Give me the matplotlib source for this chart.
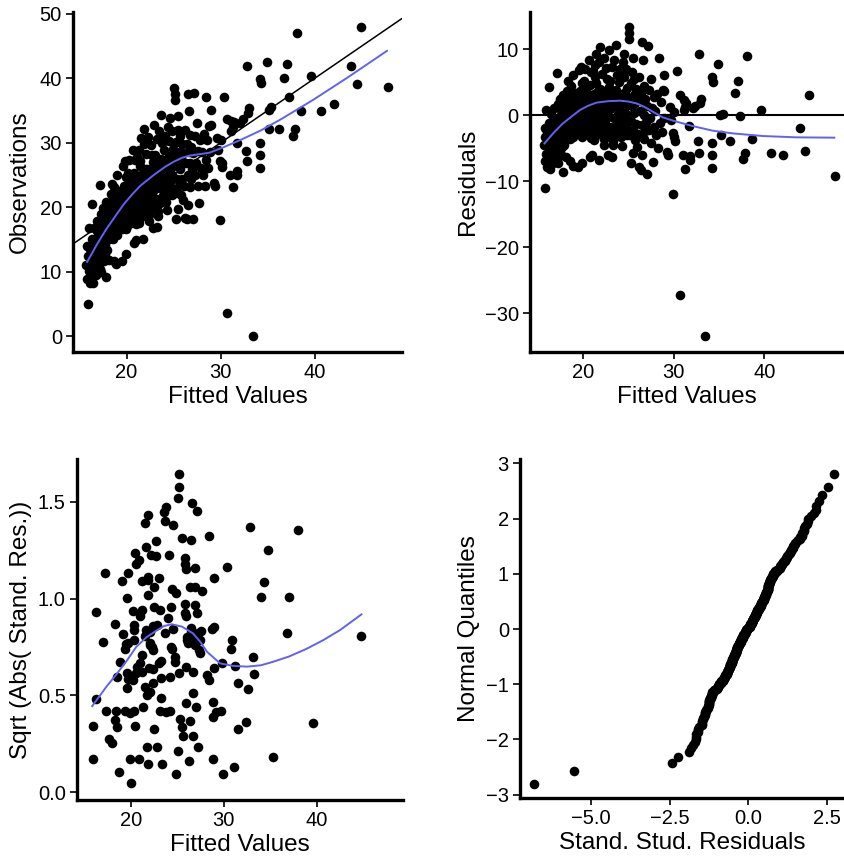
import numpy as np
import matplotlib.pyplot as plt
from statistics import NormalDist

plt.rcParams['font.family'] = ['Liberation Sans', 'DejaVu Sans']

# fitted values and raw residuals of the model, grouped by fitted range
fitted = [
    15.7, 15.8, 15.8, 15.9, 15.9, 16.0, 16.0, 16.1, 16.1, 16.2, 16.2, 16.3, 16.3, 16.4, 16.4, 16.5, 16.5, 16.6, 16.6, 16.7, 16.7, 16.8, 16.8, 16.9, 16.9, 17.0, 17.0, 16.5, 16.2, 16.6,
    17.05, 17.1, 17.15, 17.2, 17.2, 17.25, 17.3, 17.3, 17.35, 17.4, 17.45, 17.5, 17.5, 17.55, 17.6, 17.6, 17.7, 17.7, 17.75, 17.8, 17.8, 17.85, 17.9, 17.9, 17.95,
    18.0, 18.05, 18.1, 18.1, 18.15, 18.2, 18.25, 18.3, 18.3, 18.35, 18.4, 18.4, 18.45, 18.5, 18.5, 18.55, 18.6, 18.6, 18.65, 18.7, 18.7, 18.75, 18.8, 18.8, 18.85, 18.9, 18.9, 18.95, 18.95, 18.5,
    19.0, 19.05, 19.1, 19.1, 19.15, 19.2, 19.25, 19.25, 19.3, 19.3, 19.35, 19.4, 19.4, 19.45, 19.5, 19.5, 19.55, 19.6, 19.6, 19.65, 19.7, 19.7, 19.75, 19.8, 19.8, 19.85, 19.9, 19.9, 19.95, 19.95, 19.3, 19.6, 19.8, 19.2, 19.5,
    20.0, 20.05, 20.1, 20.1, 20.15, 20.2, 20.25, 20.3, 20.3, 20.35, 20.4, 20.45, 20.5, 20.5, 20.55, 20.6, 20.6, 20.65, 20.7, 20.7, 20.75, 20.8, 20.8, 20.85, 20.9, 20.9, 20.95, 21.0, 21.0, 20.4, 20.2, 20.6, 20.0, 20.5, 20.9,
    21.0, 21.05, 21.1, 21.1, 21.15, 21.2, 21.25, 21.3, 21.3, 21.35, 21.4, 21.4, 21.45, 21.5, 21.5, 21.55, 21.6, 21.6, 21.65, 21.7, 21.7, 21.75, 21.8, 21.8, 21.85, 21.9, 21.9, 21.9, 21.95, 21.95, 21.3, 21.6, 21.2, 21.8, 21.4,
    22.0, 22.05, 22.1, 22.1, 22.15, 22.2, 22.25, 22.3, 22.3, 22.35, 22.4, 22.45, 22.5, 22.5, 22.55, 22.6, 22.6, 22.65, 22.7, 22.7, 22.75, 22.8, 22.8, 22.85, 22.9, 22.9, 22.95, 22.4, 22.2, 22.6,
    23.0, 23.05, 23.1, 23.15, 23.2, 23.25, 23.3, 23.35, 23.4, 23.45, 23.5, 23.5, 23.55, 23.6, 23.65, 23.7, 23.7, 23.75, 23.8, 23.8, 23.85, 23.9, 23.95, 23.95, 23.3, 23.6, 23.1, 23.9,
    24.0, 24.05, 24.1, 24.15, 24.2, 24.25, 24.3, 24.35, 24.4, 24.45, 24.5, 24.5, 24.55, 24.6, 24.6, 24.65, 24.7, 24.75, 24.8, 24.8, 24.85, 24.9, 24.95, 24.3, 24.7,
    25.05, 25.1, 25.15, 25.2, 25.2, 25.3, 25.3, 25.35, 25.4, 25.45, 25.5, 25.5, 25.55, 25.6, 25.65, 25.7, 25.75, 25.8, 25.85, 25.9, 25.95, 25.4,
    26.0, 26.1, 26.2, 26.25, 26.3, 26.4, 26.45, 26.5, 26.5, 26.55, 26.6, 26.65, 26.7, 26.75, 26.8, 26.85, 26.9, 26.95,
    27.05, 27.1, 27.2, 27.25, 27.3, 27.4, 27.5, 27.55, 27.6, 27.7, 27.8, 27.9,
    28.0, 28.1, 28.2, 28.3, 28.4, 28.5, 28.6, 28.7, 28.8, 28.9,
    29.0, 29.0, 29.3, 29.4, 29.6, 29.7, 29.9, 29.9, 30.1, 30.2, 30.0, 30.4, 30.7, 30.7, 31.1, 31.4, 31.1, 31.3, 31.7, 31.0,
    31.3, 31.8, 31.8, 32.1, 32.4, 32.9, 33.0, 32.7, 32.8, 32.8, 33.5, 34.2, 34.3, 34.9, 34.2, 34.2, 34.2, 35.1, 35.4, 35.2,
    36.2, 36.8, 37.1, 37.3, 37.9, 37.7, 38.1, 38.6, 39.6, 40.7, 42.1, 43.9, 44.5, 44.9, 47.8,
]
resid = [
    -4.6, -6.9, -1.9, -11.0, -3.4, 0.7, -5.9, -7.9, -2.6, -6.8, -4.3, 4.2, -1.2, -8.2, -5.2, -3.1, 0.2, -6.3, -4.8, -2.2, -7.2, 1.1, -5.5, -3.8, -0.6, -6.6, -5.6, -4.9, -2.9, -1.5,
    -3.4, -0.9, -5.4, 6.3, -6.8, -7.3, -2.1, 1.6, -4.2, -0.3, -5.6, 2.4, -2.8, -1.2, -6.0, 0.8, -3.6, -4.9, -0.7, -8.7, 3.0, -2.4, -4.6, 1.2, -1.6,
    -0.2, -2.3, 2.0, -3.1, -6.4, 0.6, -1.8, 3.7, -2.0, -0.9, 5.2, -2.7, 1.5, -1.4, -1.1, 2.6, -3.6, 0.3, -7.0, 4.4, -2.1, 1.0, -1.7, -0.4, 3.1, -7.7, -1.5, 6.0, -3.3, 0.9,
    0.2, -2.6, 3.4, -2.4, 1.3, -1.0, 3.1, -1.1, 2.4, -0.3, -0.9, 2.9, -1.9, 0.9, -7.8, 2.9, -2.9, 1.7, -0.7, 6.8, -2.6, 3.6, 0.4, -2.2, 7.3, 1.9, -7.2, -1.3, 4.8, -3.4, 1.2, 2.2, -1.6, 0.6, -1.5,
    1.0, -3.0, 5.2, -0.8, 2.7, -2.2, 0.3, 7.0, -2.0, 3.8, -1.1, 1.8, -2.9, 3.2, 0.7, -2.6, 3.1, 8.3, -0.2, 2.2, -1.2, -6.3, 4.5, 1.4, -1.6, 6.5, -3.5, -6.1, 2.8, 3.0, 1.6, -0.4, -1.8, 2.4, 0.5,
    0.8, 2.7, -2.4, 1.6, 6.6, -0.5, 3.2, -1.7, 2.1, 7.6, -1.3, 0.1, 4.9, 9.3, -3.0, 2.6, -2.0, 1.1, 3.0, -1.9, 3.6, 0.4, -6.8, 2.3, 8.0, 10.3, -2.5, 1.3, -0.9, 4.0, -3.8, -2.9, 2.9, -0.3, 5.8,
    2.5, -2.1, 6.2, 0.2, -1.8, 3.7, -0.6, 8.6, 1.5, -3.6, 2.8, -1.4, 2.9, -1.2, 7.1, 0.6, -2.7, 3.3, -2.6, 5.4, 1.2, -6.1, -0.3, 4.2, 9.8, 2.0, -3.2, -4.5, 1.9, 3.0,
    0.9, 5.1, -1.8, 3.2, -6.3, 7.3, 1.7, -3.9, 3.3, -0.4, 2.6, 8.4, -2.9, 1.3, -2.5, 10.6, 3.8, -0.8, 6.1, -2.2, 2.3, 0.1, 5.0, -2.0, -4.6, 3.5, 2.0, -1.3,
    3.0, -1.2, 6.9, 0.5, -3.4, 2.6, 1.9, -2.1, 8.1, -0.6, 3.4, -2.6, 5.7, 9.3, 1.0, -0.8, 2.8, -1.7, 7.0, 0.2, -3.0, 4.1, 1.5, -4.7, 3.2,
    13.4, 11.5, 12.4, -3.0, 2.3, -7.2, 4.9, -0.9, 1.4, 6.5, 8.6, -5.8, -2.3, 3.0, 0.3, 5.4, -3.8, 1.8, -1.4, 3.9, -4.8, 2.6,
    2.4, -2.8, -7.8, 5.8, 0.6, -8.3, 3.3, 11.0, -6.1, -1.5, 8.3, 1.9, -3.6, 4.4, 0.0, -2.4, 2.5, -1.0,
    1.4, -8.9, 10.5, -2.3, 3.8, -0.5, 5.5, -4.2, 1.1, -7.1, 2.7, -1.8,
    0.6, -3.1, 3.2, -5.0, 8.7, -1.2, 1.9, -2.6, 3.8, -0.4,
    6.1, 3.7, -5.6, -6.1, 1.2, -0.8, -11.9, -2.7, -3.3, -4.0, 0.5, 6.7, 3.0, -27.2, 2.3, 1.8, 0.8, 1.2, -1.7, -6.0,
    -8.2, -6.2, -6.8, 1.0, 1.3, 1.8, 2.4, -4.0, -5.7, 9.2, -33.5, 5.7, 5.0, 7.7, -4.2, -6.1, -8.1, 0.0, 0.2, -3.0,
    -4.0, 3.3, 5.1, -0.2, -5.8, -6.6, 8.9, -3.6, 0.7, -5.7, -6.1, -1.9, -5.4, 3.1, -9.2,
]

# smoothed residual trend against fitted values
smooth_x = [15.8, 16.8, 17.8, 18.8, 19.7, 20.6, 21.5, 22.8, 24.1, 25.0, 25.9, 26.7, 27.4, 28.1, 28.8, 30.3, 32.1, 34.3, 36.5, 39.8, 43.5, 47.7]
smooth_res = [-4.3, -2.7, -1.3, -0.2, 0.76, 1.4, 1.87, 2.1, 2.17, 2.05, 1.77, 1.3, 0.76, 0.2, -0.35, -1.0, -1.67, -2.37, -2.78, -3.18, -3.38, -3.43]

# scale-location panel
fit3 = [
    25.19, 25.19, 25.1, 26.56, 27.1, 23.8, 23.6, 21.9, 21.5, 23.7, 24.6, 32.8, 38.0, 28.4, 25.5, 26.5, 22.7, 21.6, 34.8, 20.5,
    22.2, 22.7, 24.1, 25.8, 25.8, 25.9, 20.9, 20.6, 26.9, 30.4, 17.2, 19.7, 21.9, 23.0, 21.9, 21.2, 19.1, 29.0, 34.3, 22.5,
    24.4, 24.9, 26.4, 26.9, 27.7, 21.9, 19.57, 34.0, 37.0, 16.3, 20.2, 21.2, 21.0, 22.5, 23.2, 24.3, 25.8, 25.8, 25.9, 26.9,
    27.1, 24.0, 18.3, 20.35, 20.35, 21.6, 22.1, 22.8, 22.4, 23.7, 24.5, 26.5, 27.6, 28.7, 29.0, 19.2, 36.8, 44.8, 17.05, 30.9,
    19.7, 20.35, 19.4, 21.5, 22.1, 22.4, 21.2, 26.0, 26.2, 26.7, 26.9, 27.3, 27.45, 24.4, 24.8, 24.8, 23.3, 23.0, 22.0, 22.4,
    21.0, 20.7, 21.2, 20.6, 20.1, 18.8, 18.5, 19.57, 19.7, 20.3, 19.57, 21.5, 21.8, 22.1, 22.4, 23.3, 24.2, 25.2, 25.9, 26.7,
    28.2, 28.4, 29.0, 29.85, 30.8, 31.2, 33.1, 33.2, 31.5, 32.6, 26.7, 25.9, 27.0, 23.3, 28.9, 28.8, 29.2, 29.7, 16.3, 17.4,
    18.4, 19.4, 19.9, 20.35, 21.3, 18.3, 18.5, 23.15, 23.8, 24.2, 25.3, 25.5, 26.4, 25.6, 26.7, 22.5, 20.5, 15.9, 17.7, 17.96,
    31.5, 32.4, 39.6, 21.8, 22.8, 25.1, 27.2, 15.9, 19.9, 20.9, 21.9, 23.4, 26.3, 28.9, 35.3, 31.1, 18.7, 24.9, 29.95, 20.0,
    19.5, 26.45, 26.0, 27.2, 27.45, 24.3, 22.1, 22.3,
]
sqrt_res3 = [
    1.643, 1.578, 1.518, 1.492, 1.452, 1.471, 1.449, 1.432, 1.389, 1.40, 1.38, 1.368, 1.352, 1.323, 1.315, 1.302, 1.299, 1.265, 1.252, 1.234,
    1.223, 1.218, 1.226, 1.208, 1.18, 1.153, 1.199, 1.18, 1.159, 1.164, 1.13, 1.13, 1.113, 1.104, 1.096, 1.092, 1.092, 1.104, 1.084, 1.058,
    1.048, 1.027, 1.061, 1.061, 1.04, 1.018, 1.004, 1.008, 1.006, 0.929, 0.937, 0.941, 0.91, 0.958, 0.941, 0.958, 0.972, 0.924, 0.911, 0.966,
    0.924, 0.901, 0.867, 0.864, 0.837, 0.837, 0.828, 0.864, 0.858, 0.823, 0.845, 0.85, 0.832, 0.845, 0.854, 0.815, 0.82, 0.806, 0.777, 0.785,
    0.772, 0.785, 0.737, 0.806, 0.768, 0.734, 0.708, 0.803, 0.768, 0.794, 0.76, 0.734, 0.716, 0.741, 0.699, 0.673, 0.679, 0.665, 0.639, 0.634,
    0.665, 0.648, 0.622, 0.613, 0.596, 0.673, 0.596, 0.613, 0.582, 0.579, 0.536, 0.544, 0.501, 0.518, 0.565, 0.588, 0.593, 0.613, 0.648, 0.62,
    0.605, 0.579, 0.639, 0.665, 0.741, 0.651, 0.696, 0.61, 0.565, 0.531, 0.51, 0.461, 0.441, 0.487, 0.467, 0.386, 0.415, 0.419, 0.481, 0.419,
    0.419, 0.419, 0.407, 0.42, 0.441, 0.372, 0.334, 0.419, 0.415, 0.419, 0.376, 0.334, 0.368, 0.289, 0.289, 0.324, 0.341, 0.341, 0.272, 0.252,
    0.324, 0.362, 0.355, 0.231, 0.231, 0.212, 0.231, 0.169, 0.169, 0.169, 0.145, 0.145, 0.162, 0.169, 0.182, 0.131, 0.105, 0.093, 0.091, 0.045,
    0.765, 0.828, 0.785, 0.823, 0.785, 0.75, 0.76, 0.75,
]
smooth3_x = [15.87, 16.34, 17.4, 18.5, 19.6, 20.6, 21.7, 22.8, 23.6, 24.4, 25.5, 26.7, 27.5, 28.2, 29.6, 31.0, 32.5, 34.0, 35.3, 37.0, 38.9, 40.7, 42.5, 44.8]
smooth3_y = [0.444, 0.475, 0.545, 0.61, 0.68, 0.75, 0.80, 0.835, 0.858, 0.867, 0.855, 0.82, 0.775, 0.725, 0.665, 0.652, 0.648, 0.655, 0.673, 0.70, 0.74, 0.785, 0.837, 0.918]

fitted = np.array(fitted)
resid = np.array(resid)
observed = fitted + resid
smooth_x = np.array(smooth_x)
smooth_res = np.array(smooth_res)

# standardised residuals against normal quantiles
n = len(resid)
s = np.sqrt(np.sum(resid ** 2) / (n - 2))
stud = np.sort(resid / s)
quant = [NormalDist().inv_cdf(i / (n + 1)) for i in range(1, n + 1)]

blue = '#6262f2'
dot = 48


def style(ax):
    for side in ['top', 'right']:
        ax.spines[side].set_visible(False)
    for side in ['left', 'bottom']:
        ax.spines[side].set_linewidth(2.4)
    ax.tick_params(direction='out', length=5, width=1.2, labelsize=14.5, pad=3)


fig = plt.figure(figsize=(8.45, 8.61), dpi=100)

# observed vs fitted
ax1 = fig.add_axes([0.0864, 0.5912, 0.3893, 0.3948])
ax1.scatter(fitted, observed, s=dot, color='black', linewidths=0, zorder=2)
ax1.axline((0, 0), slope=1, color='black', lw=1.1, zorder=3)
ax1.plot(smooth_x, smooth_x + smooth_res, color=blue, lw=1.4, zorder=4)
ax1.set_xlim(14.3, 49.3)
ax1.set_ylim(-2.48, 50.3)
ax1.set_xticks([20, 30, 40])
ax1.set_yticks([0, 10, 20, 30, 40, 50])
ax1.set_xlabel('Fitted Values', fontsize=17.5, labelpad=3)
ax1.set_ylabel('Observations', fontsize=17.5, labelpad=6)
style(ax1)

# residuals vs fitted
ax2 = fig.add_axes([0.6272, 0.5912, 0.372, 0.3948])
ax2.scatter(fitted, resid, s=dot, color='black', linewidths=0, zorder=2)
ax2.axhline(0, color='black', lw=1.5, zorder=3)
ax2.plot(smooth_x, smooth_res, color=blue, lw=1.4, zorder=4)
ax2.set_xlim(14.2, 48.8)
ax2.set_ylim(-35.9, 15.6)
ax2.set_xticks([20, 30, 40])
ax2.set_yticks([-30, -20, -10, 0, 10])
ax2.set_xlabel('Fitted Values', fontsize=17.5, labelpad=3)
ax2.set_ylabel('Residuals', fontsize=17.5, labelpad=4)
style(ax2)

# scale-location
ax3 = fig.add_axes([0.0911, 0.0709, 0.386, 0.396])
ax3.scatter(fit3, sqrt_res3, s=dot, color='black', linewidths=0, zorder=2)
ax3.plot(smooth3_x, smooth3_y, color=blue, lw=1.4, zorder=4)
ax3.set_xlim(14.23, 49.28)
ax3.set_ylim(-0.041, 1.721)
ax3.set_xticks([20, 30, 40])
ax3.set_yticks([0.0, 0.5, 1.0, 1.5])
ax3.set_yticklabels(['0.0', '0.5', '1.0', '1.5'])
ax3.set_xlabel('Fitted Values', fontsize=17.5, labelpad=3)
ax3.set_ylabel('Sqrt (Abs( Stand. Res.))', fontsize=17.5, labelpad=4)
style(ax3)

# normal Q-Q
ax4 = fig.add_axes([0.6154, 0.0732, 0.3836, 0.3937])
ax4.scatter(stud, quant, s=dot, color='black', linewidths=0, zorder=2)
ax4.set_xlim(-7.27, 3.05)
ax4.set_ylim(-3.06, 3.08)
ax4.set_xticks([-5.0, -2.5, 0.0, 2.5])
ax4.set_xticklabels(['\u22125.0', '\u22122.5', '0.0', '2.5'])
ax4.set_yticks([-3, -2, -1, 0, 1, 2, 3])
ax4.set_xlabel('Stand. Stud. Residuals', fontsize=17.5, labelpad=3)
ax4.set_ylabel('Normal Quantiles', fontsize=17.5, labelpad=4)
style(ax4)

plt.savefig('out.png', dpi=100)
